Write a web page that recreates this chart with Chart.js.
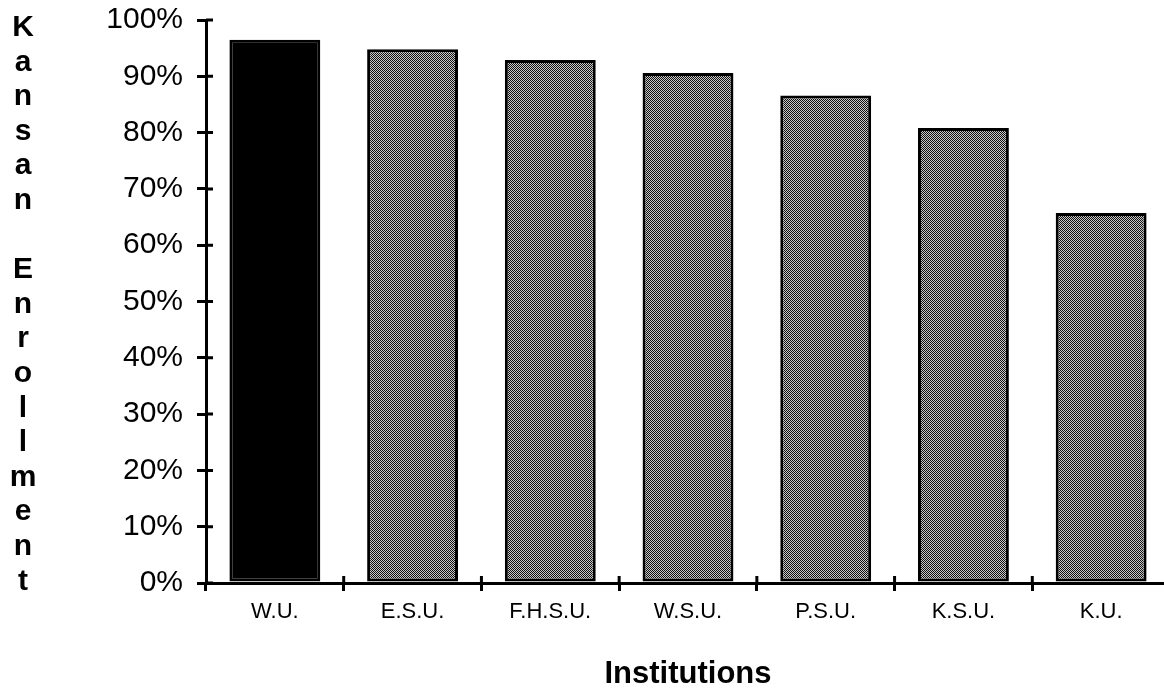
<!DOCTYPE html>
<html>
<head>
<meta charset="utf-8">
<script src="https://cdn.jsdelivr.net/npm/chart.js@4.4.1/dist/chart.umd.min.js"></script>
<style>
  html, body { margin: 0; padding: 0; background: #fff; overflow: hidden; }
  #wrap { position: relative; width: 1172px; height: 693px; }
</style>
</head>
<body>
<div id="wrap"><canvas id="c"></canvas></div>
<script>
const categories = ['W.U.', 'E.S.U.', 'F.H.S.U.', 'W.S.U.', 'P.S.U.', 'K.S.U.', 'K.U.'];
const enrollment = [96.5, 94.8, 92.9, 90.6, 86.6, 80.8, 65.7];
const highlighted = ['W.U.'];
const yTicks = [0, 10, 20, 30, 40, 50, 60, 70, 80, 90, 100];
const yTitle = 'Kansan Enrollment';
const xTitle = 'Institutions';

// dithered gray pattern
const pc = document.createElement('canvas');
pc.width = 2; pc.height = 2;
const pctx = pc.getContext('2d');
pctx.fillStyle = '#c8c8c8'; pctx.fillRect(0, 0, 2, 2);
pctx.fillStyle = '#111111'; pctx.fillRect(0, 0, 1, 1); pctx.fillRect(1, 1, 1, 1);
const ctx = document.getElementById('c').getContext('2d');
const dither = ctx.createPattern(pc, 'repeat');

const verticalTitle = {
  id: 'verticalTitle',
  afterDraw(chart) {
    const c = chart.ctx;
    c.save();
    c.fillStyle = '#000';
    c.font = 'bold 30px "Liberation Sans", Arial, sans-serif';
    c.textAlign = 'center';
    c.textBaseline = 'alphabetic';
    const letters = yTitle.split('');
    const step = 34.6;
    letters.forEach((ch, i) => {
      if (ch !== ' ') c.fillText(ch, 23, 36 + i * step);
    });
    c.restore();
  }
};

const crossTicks = {
  id: 'crossTicks',
  afterDraw(chart) {
    const c = chart.ctx;
    const y = chart.scales.y, x = chart.scales.x;
    c.save();
    c.strokeStyle = '#000';
    c.lineWidth = 3;
    c.beginPath();
    yTicks.forEach(v => {
      const py = y.getPixelForValue(v);
      c.moveTo(x.left, py); c.lineTo(x.left + 7, py);
    });
    for (let i = 1; i < categories.length; i++) {
      const px = (x.getPixelForValue(i - 1) + x.getPixelForValue(i)) / 2;
      c.moveTo(px, y.bottom); c.lineTo(px, y.bottom - 7);
    }
    c.stroke();
    c.restore();
  }
};

new Chart(ctx, {
  type: 'bar',
  data: {
    labels: categories,
    datasets: [{
      data: enrollment,
      backgroundColor: categories.map(c => highlighted.includes(c) ? '#000000' : dither),
      borderColor: '#000000',
      borderWidth: 3,
      borderSkipped: false,
      barPercentage: 0.66,
      categoryPercentage: 1.0
    }]
  },
  options: {
    responsive: true,
    maintainAspectRatio: false,
    animation: false,
    devicePixelRatio: 1,
    layout: { padding: { top: 20, right: 2, left: 0, bottom: 0 } },
    plugins: { legend: { display: false }, tooltip: { enabled: false } },
    scales: {
      x: {
        offset: true,
        grid: { display: true, drawOnChartArea: false, offset: true, tickLength: 8, color: '#000', lineWidth: 3 },
        border: { display: true, color: '#000', width: 3 },
        ticks: { color: '#000', font: { family: '"Liberation Sans Narrow", "Arial Narrow", "Liberation Sans", sans-serif', size: 22 }, padding: 8, maxRotation: 0 },
        title: { display: true, text: xTitle, color: '#000', font: { family: '"Liberation Sans", Arial, sans-serif', size: 31, weight: 'bold' }, padding: { top: 32, bottom: 0 } },
        afterFit(scale) { scale.height = 110; scale.paddingLeft = 0; scale.paddingRight = 0; }
      },
      y: {
        min: 0, max: 100,
        afterBuildTicks(scale) { scale.ticks = yTicks.map(v => ({ value: v })); },
        grid: { display: true, drawOnChartArea: false, tickLength: 9, color: '#000', lineWidth: 3 },
        border: { display: true, color: '#000', width: 3 },
        ticks: { color: '#000', font: { family: '"Liberation Sans", Arial, sans-serif', size: 30 }, padding: 14, callback: v => v + '%' },
        afterFit(scale) { scale.width = 206; scale.paddingTop = 0; scale.paddingBottom = 0; }
      }
    }
  },
  plugins: [verticalTitle, crossTicks]
});
</script>
</body>
</html>
